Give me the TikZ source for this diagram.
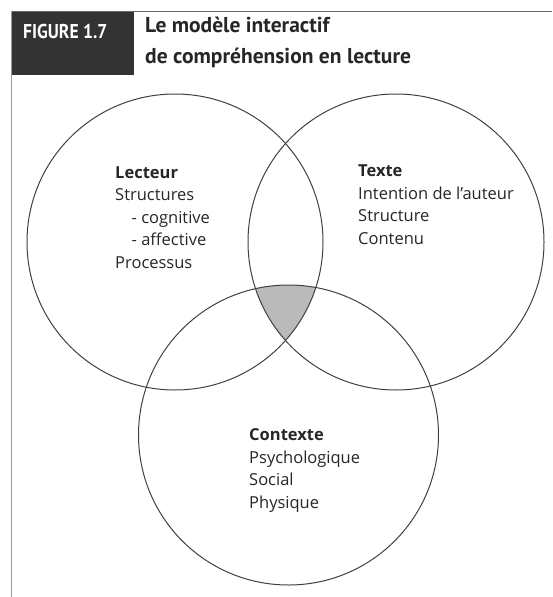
\documentclass[tikz,border=0pt]{standalone}
\usepackage{fontspec}
\setmainfont{Open Sans}
\newfontfamily\headfont{PT Sans}
\usetikzlibrary{positioning}

\begin{document}
\begin{tikzpicture}[x=1pt,y=-1pt,
    ring/.style={draw=black!75,line width=1pt},
    setlabel/.style={anchor=base west,align=left,inner sep=0pt,
        font=\fontsize{16.5}{22.5}\selectfont,text=black!85}]
    \useasboundingbox (0,0) rectangle (552,597);

    % header
    \fill[black!80] (12,11) rectangle (134,75);
    \draw[black!60,line width=0.6pt] (12,11) -- (552,11);
    \draw[black!40,line width=0.6pt] (11,11) -- (11,597);
    \node[anchor=base west,inner sep=0pt,text=white,
        font=\headfont\fontsize{20}{24}\selectfont\bfseries] (fig) at (23,38)
        {\scalebox{0.88}[1]{FIGURE 1.7}};
    \node[anchor=base west,align=left,inner sep=0pt,text=black!85,
        font=\headfont\fontsize{21.5}{31}\selectfont\bfseries] (title) at (145,63)
        {Le modèle interactif\\de compréhension en lecture};

    % the three sets
    \coordinate (lecteur) at (175,242);
    \coordinate (texte) at (396,242);
    \coordinate (contexte) at (288.5,435);

    \begin{scope}
        \clip (lecteur) circle [radius=148];
        \clip (texte) circle [radius=148];
        \fill[black!27] (contexte) circle [radius=150];
    \end{scope}

    \draw[ring] (lecteur) circle [radius=148];
    \draw[ring] (texte) circle [radius=148];
    \draw[ring] (contexte) circle [radius=150];

    % labels (anchored on the last line)
    \node[setlabel] (lecteurtxt) at (115,268)
        {\textbf{Lecteur}\\Structures\\\hspace*{1em}- cognitive\\\hspace*{1em}- affective\\Processus};
    \node[setlabel] (textetxt) at (358,244)
        {\textbf{Texte}\\Intention de l’auteur\\Structure\\Contenu};
    \node[setlabel] (contextetxt) at (249,508)
        {\textbf{Contexte}\\Psychologique\\Social\\Physique};
\end{tikzpicture}
\end{document}
